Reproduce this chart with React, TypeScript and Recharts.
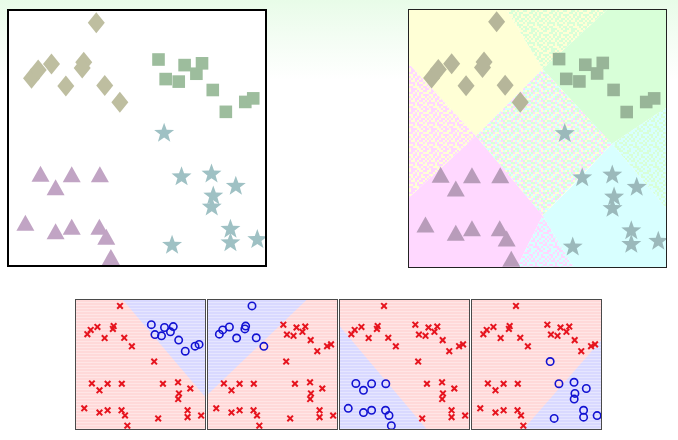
import { ComposedChart, Scatter, Area, XAxis, YAxis } from 'recharts'

// four classes, positions in a 0-100 box (x right, y up)
const DIAMONDS = [
  [34.1, 95.4], [8.8, 73.5], [11.4, 76.8], [16.6, 79.1], [29.2, 79.8], [28.6, 77.6],
  [22.2, 70.5], [37.4, 70.7], [43.3, 64.1],
]
const SQUARES = [
  [58.4, 80.9], [61.2, 73.2], [66.3, 72.2], [68.6, 78.7], [73.2, 75.3],
  [75.4, 79.4], [79.6, 68.9], [84.7, 60.3], [92.3, 64.2], [95.4, 65.6],
]
const TRIANGLES = [
  [12.3, 35.3], [24.5, 35.1], [35.5, 35.1], [18.2, 30.0], [6.4, 16.0],
  [18.2, 12.7], [24.5, 14.5], [35.3, 14.5], [38.0, 10.5], [39.8, 2.6],
]
const STARS = [
  [60.6, 52.3], [67.4, 35.1], [79.1, 36.2], [88.6, 31.4], [79.8, 27.6],
  [79.2, 23.2], [86.5, 14.5], [86.5, 9.2], [97.0, 10.4], [63.7, 8.2],
]

// decision regions of the 4-class panel, [low, high] per x
const YELLOW_REGION = [{ x: 0, r: [79, 100] }, { x: 26, r: [51, 100] }, { x: 38, r: [63, 100] }, { x: 52, r: [77, 77] }]
const GREEN_REGION = [{ x: 52, r: [77, 77] }, { x: 77, r: [50, 100] }, { x: 79, r: [48, 100] }, { x: 100, r: [62, 100] }]
const CYAN_REGION = [{ x: 52, r: [20, 20] }, { x: 64, r: [0, 32] }, { x: 79, r: [0, 48] }, { x: 100, r: [0, 23] }]
const PINK_REGION = [{ x: 0, r: [0, 27] }, { x: 26, r: [0, 51] }, { x: 42, r: [0, 32] }, { x: 52, r: [20, 20] }]
const MIX_LEFT = [{ x: 0, r: [27, 79] }, { x: 26, r: [51, 51] }]
const MIX_TOP = [{ x: 38, r: [100, 100] }, { x: 52, r: [77, 100] }, { x: 77, r: [100, 100] }]
const MIX_RIGHT = [{ x: 79, r: [48, 48] }, { x: 100, r: [23, 62] }]
const MIX_BOTTOM = [{ x: 42, r: [0, 0] }, { x: 52, r: [0, 20] }, { x: 64, r: [0, 0] }]
const MIX_CENTER = [{ x: 26, r: [51, 51] }, { x: 52, r: [20, 77] }, { x: 79, r: [48, 48] }]

// one-vs-rest regions (blue side) for the four small panels
const BLUE_SQUARES = [{ x: 36.4, r: [100, 100] }, { x: 100, r: [25, 100] }]
const BLUE_DIAMONDS = [{ x: 0, r: [27, 100] }, { x: 76.3, r: [100, 100] }]
const BLUE_TRIANGLES = [{ x: 0, r: [0, 79.5] }, { x: 67, r: [0, 0] }]
const BLUE_STARS = [{ x: 40, r: [0, 0] }, { x: 100, r: [0, 68.7] }]

const pts = (a: number[][]) => a.map(([x, y]) => ({ x, y }))

const NOISE2 = [
  '0110100110', '1101011000', '0011010111', '1010110010', '0101101101',
  '1001011010', '1110100101', '0010111001', '1100010110', '0111001011',
]
const NOISE4 = [
  '0312130201', '2130023113', '1202310320', '3021132012', '0231301230',
  '1302023101', '2113200312', '3020131203', '0132203110', '2301120322',
]

const YEL = '#ffffd6'
const GRN = '#d8ffd8'
const CYN = '#d8ffff'
const PNK = '#ffd8ff'

function NoisePattern({ id, rows, colors }: { id: string; rows: string[]; colors: string[] }) {
  return (
    <pattern id={id} width={20} height={20} patternUnits="userSpaceOnUse">
      {rows.map((row, j) =>
        row.split('').map((ch, i) => (
          <rect key={`${i}-${j}`} x={i * 2} y={j * 2} width={2} height={2} fill={colors[Number(ch)]} />
        ))
      )}
    </pattern>
  )
}

const diamond = (fill: string) => (p: any) => (
  <polygon points={`${p.cx},${p.cy - 10.5} ${p.cx + 8.5},${p.cy} ${p.cx},${p.cy + 10.5} ${p.cx - 8.5},${p.cy}`} fill={fill} />
)
const square = (fill: string) => (p: any) => (
  <rect x={p.cx - 6.3} y={p.cy - 6.3} width={12.6} height={12.6} fill={fill} />
)
const triangle = (fill: string) => (p: any) => (
  <polygon points={`${p.cx},${p.cy - 9.5} ${p.cx + 9},${p.cy + 6.5} ${p.cx - 9},${p.cy + 6.5}`} fill={fill} />
)
const star = (fill: string) => (p: any) => {
  const s: string[] = []
  for (let i = 0; i < 10; i++) {
    const a = -Math.PI / 2 + (i * Math.PI) / 5
    const rad = i % 2 === 0 ? 10.5 : 4.3
    s.push(`${p.cx + rad * Math.cos(a)},${p.cy + 1 + rad * Math.sin(a)}`)
  }
  return <polygon points={s.join(' ')} fill={fill} />
}
const cross = (p: any) => (
  <g stroke="#e6141e" strokeWidth={2}>
    <line x1={p.cx - 2.8} y1={p.cy - 2.8} x2={p.cx + 2.8} y2={p.cy + 2.8} />
    <line x1={p.cx - 2.8} y1={p.cy + 2.8} x2={p.cx + 2.8} y2={p.cy - 2.8} />
  </g>
)
const ring = (p: any) => <circle cx={p.cx} cy={p.cy} r={3.7} fill="none" stroke="#1212d2" strokeWidth={1.6} />

function Axes() {
  return [
    <XAxis key="x" type="number" dataKey="x" domain={[0, 100]} hide allowDataOverflow />,
    <YAxis key="y" type="number" domain={[0, 100]} hide allowDataOverflow />,
  ]
}

function Region({ data, fill }: { data: any[]; fill: string }) {
  return (
    <Area
      data={data}
      dataKey="r"
      type="linear"
      stroke="none"
      fill={fill}
      fillOpacity={1}
      dot={false}
      activeDot={false}
      isAnimationActive={false}
    />
  )
}

function Marks({ pal }: { pal: string[] }) {
  return [
    <Scatter key="d" data={pts(DIAMONDS)} dataKey="y" shape={diamond(pal[0])} isAnimationActive={false} />,
    <Scatter key="s" data={pts(SQUARES)} dataKey="y" shape={square(pal[1])} isAnimationActive={false} />,
    <Scatter key="t" data={pts(TRIANGLES)} dataKey="y" shape={triangle(pal[2])} isAnimationActive={false} />,
    <Scatter key="st" data={pts(STARS)} dataKey="y" shape={star(pal[3])} isAnimationActive={false} />,
  ]
}

const M = { top: 0, right: 0, bottom: 0, left: 0 }

function SmallPanel({ left, blue, region }: { left: number; blue: number; region: any[] }) {
  const classes = [SQUARES, DIAMONDS, TRIANGLES, STARS]
  return (
    <div
      style={{
        position: 'absolute',
        left,
        top: 299,
        width: 129,
        height: 129,
        border: '1px solid #4a4a4a',
        background: 'repeating-linear-gradient(180deg, #ffd9d9 0px, #ffd9d9 2px, #ffe6e6 2px, #ffe6e6 3px)',
      }}
    >
      <ComposedChart width={129} height={129} margin={M}>
        <defs>
          <pattern id="blueStripe" width={6} height={3} patternUnits="userSpaceOnUse">
            <rect width={6} height={3} fill="#d9d9ff" />
            <rect y={2} width={6} height={1} fill="#e6e6ff" />
          </pattern>
        </defs>
        {Axes()}
        <Region data={region} fill="url(#blueStripe)" />
        {classes.map((c, i) =>
          i === blue ? null : (
            <Scatter key={i} data={pts(c)} dataKey="y" shape={cross} isAnimationActive={false} />
          )
        )}
        <Scatter data={pts(classes[blue])} dataKey="y" shape={ring} isAnimationActive={false} />
      </ComposedChart>
    </div>
  )
}

export default function App() {
  return (
    <div
      style={{
        position: 'fixed',
        left: 0,
        top: 0,
        width: 678,
        height: 440,
        overflow: 'hidden',
        background: 'linear-gradient(180deg, #e8fce8 0px, #f3fdf3 35px, #ffffff 80px)',
      }}
    >
      <style>{`.recharts-surface{overflow:visible}`}</style>
      <div style={{ position: 'absolute', left: 7, top: 9, width: 256, height: 254, border: '2px solid #000', background: '#fff' }}>
        <ComposedChart width={256} height={254} margin={M}>
          {Axes()}
          {Marks({ pal: ['#bebea0', '#9dbd9d', '#c1a4c4', '#9fc1c4'] })}
        </ComposedChart>
      </div>
      <div style={{ position: 'absolute', left: 408, top: 9, width: 257, height: 257, border: '1px solid #222', background: '#fff' }}>
        <ComposedChart width={257} height={257} margin={M}>
          <defs>
            <NoisePattern id="mixYP" rows={NOISE2} colors={[YEL, PNK]} />
            <NoisePattern id="mixYG" rows={NOISE2} colors={[YEL, GRN]} />
            <NoisePattern id="mixGC" rows={NOISE2} colors={[GRN, CYN]} />
            <NoisePattern id="mixPC" rows={NOISE2} colors={[PNK, CYN]} />
            <NoisePattern id="mixAll" rows={NOISE4} colors={[YEL, GRN, CYN, PNK]} />
          </defs>
          {Axes()}
          <Region data={YELLOW_REGION} fill={YEL} />
          <Region data={GREEN_REGION} fill={GRN} />
          <Region data={CYAN_REGION} fill={CYN} />
          <Region data={PINK_REGION} fill={PNK} />
          <Region data={MIX_LEFT} fill="url(#mixYP)" />
          <Region data={MIX_TOP} fill="url(#mixYG)" />
          <Region data={MIX_RIGHT} fill="url(#mixGC)" />
          <Region data={MIX_BOTTOM} fill="url(#mixPC)" />
          <Region data={MIX_CENTER} fill="url(#mixAll)" />
          {Marks({ pal: ['#b6b69a', '#98b598', '#b89cba', '#9bb9bb'] })}
        </ComposedChart>
      </div>
      <SmallPanel left={75} blue={0} region={BLUE_SQUARES} />
      <SmallPanel left={207} blue={1} region={BLUE_DIAMONDS} />
      <SmallPanel left={339} blue={2} region={BLUE_TRIANGLES} />
      <SmallPanel left={471} blue={3} region={BLUE_STARS} />
    </div>
  )
}
